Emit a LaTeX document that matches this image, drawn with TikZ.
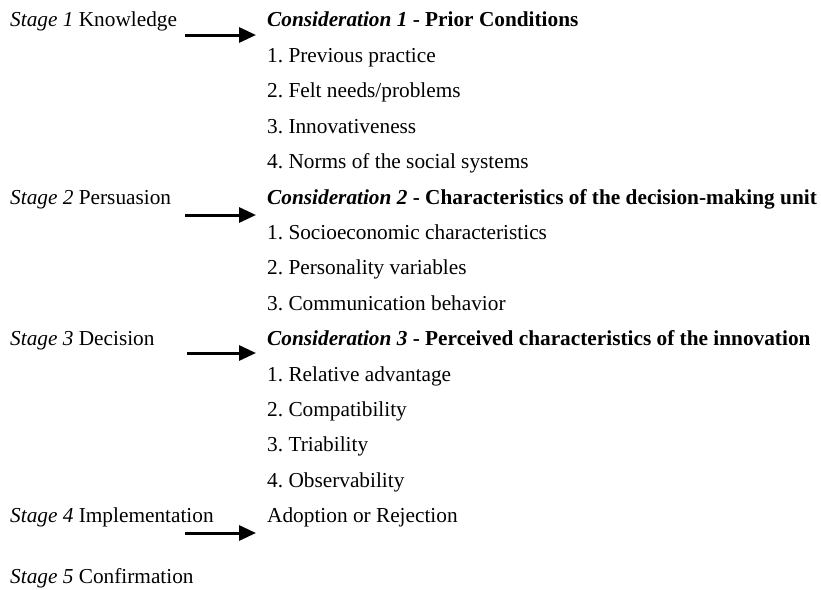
\documentclass[tikz,border=0pt]{standalone}
\usepackage{fontspec}
\setmainfont{Liberation Serif}
\usepackage{tikz}
\usetikzlibrary{arrows.meta}
\usetikzlibrary{positioning}
\frenchspacing
\tikzset{
    txt/.style={
           inner sep=0pt,
           text height=15pt,
           text depth=5pt,
           font=\fontsize{21.3}{25}\selectfont,
           },
    item/.style={
           txt,
           below=15pt of #1.south west,
           anchor=north west,
           },
    arr/.style={
           -{Triangle[length=17pt,width=15pt]},
           line width=3pt,
           },
}

\begin{document}
\begin{tikzpicture}[x=1pt,y=-1pt]
 \useasboundingbox (0,0) rectangle (821,589);

 % Right column: first consideration at the top
 \node[txt,anchor=base west] (C1) at (267,27)
 {\textbf{\textit{Consideration 1} - Prior Conditions}};
 \node[item=C1] (C1a) {1. Previous practice};
 \node[item=C1a] (C1b) {2. Felt needs/problems};
 \node[item=C1b] (C1c) {3. Innovativeness};
 \node[item=C1c] (C1d) {4. Norms of the social systems};

 % Consideration 2
 \node[item=C1d] (C2)
 {\textbf{\textit{Consideration 2} - Characteristics of the decision-making unit}};
 \node[item=C2] (C2a) {1. Socioeconomic characteristics};
 \node[item=C2a] (C2b) {2. Personality variables};
 \node[item=C2b] (C2c) {3. Communication behavior};

 % Consideration 3
 \node[item=C2c] (C3)
 {\textbf{\textit{Consideration 3} - Perceived characteristics of the innovation}};
 \node[item=C3] (C3a) {1. Relative advantage};
 \node[item=C3a] (C3b) {2. Compatibility};
 \node[item=C3b] (C3c) {3. Triability};
 \node[item=C3c] (C3d) {4. Observability};

 % Outcome
 \node[item=C3d] (AR) {Adoption or Rejection};

 % Left column: the stages, on the same lines
 \node[txt,anchor=base west] (S1) at (10,27) {\textit{Stage 1} Knowledge};
 \node[txt,anchor=base west] (S2) at (S1.base west |- C2.base) {\textit{Stage 2} Persuasion};
 \node[txt,anchor=base west] (S3) at (S1.base west |- C3.base) {\textit{Stage 3} Decision};
 \node[txt,anchor=base west] (S4) at (S1.base west |- AR.base) {\textit{Stage 4} Implementation};
 \node[txt,below=40pt of S4.south west,anchor=north west] (S5) {\textit{Stage 5} Confirmation};

 % arrow ends
 \coordinate (A1s) at (185,35);  \coordinate (A1e) at (256,35);
 \coordinate (A2s) at (185,215); \coordinate (A2e) at (256,215);
 \coordinate (A3s) at (187,353); \coordinate (A3e) at (256,353);
 \coordinate (A4s) at (185,533); \coordinate (A4e) at (256,533);

 \draw[arr] (A1s) -- (A1e);
 \draw[arr] (A2s) -- (A2e);
 \draw[arr] (A3s) -- (A3e);
 \draw[arr] (A4s) -- (A4e);
\end{tikzpicture}
\end{document}
